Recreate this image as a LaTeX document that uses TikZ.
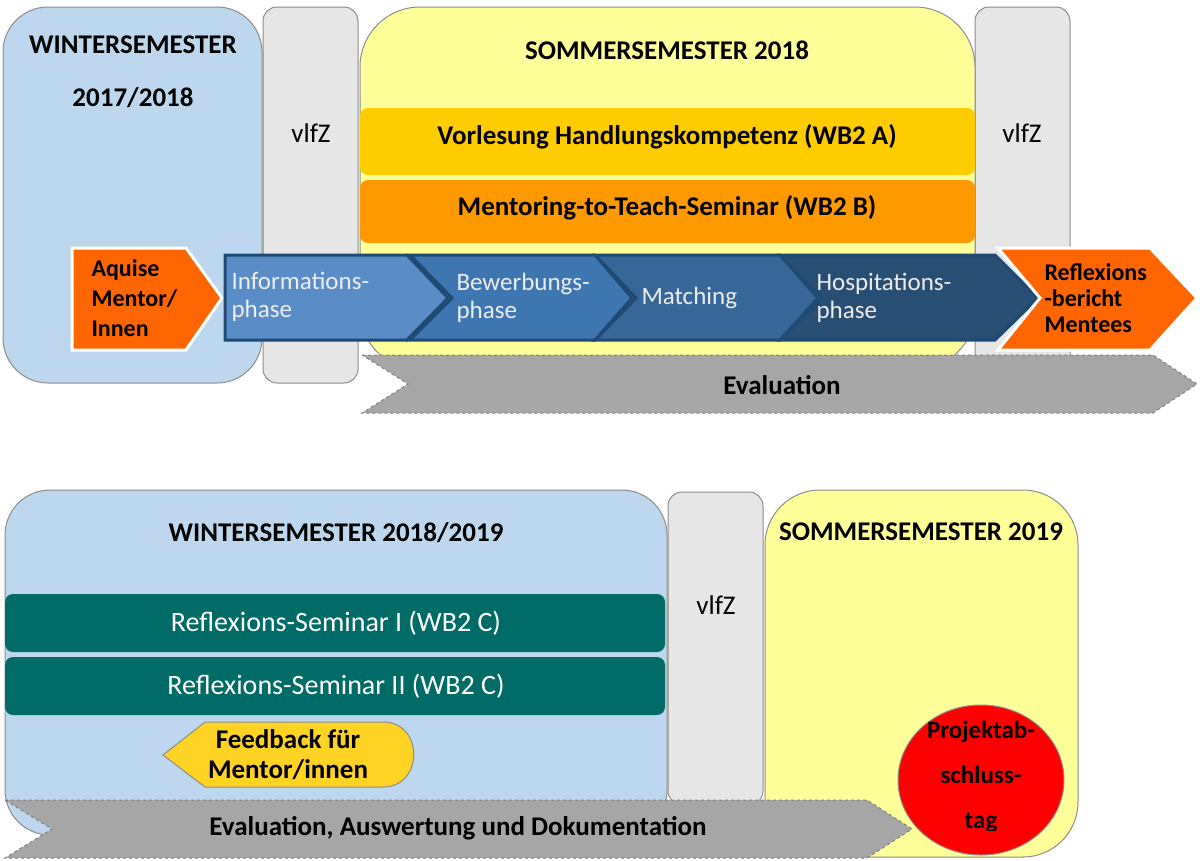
\documentclass[tikz,border=0pt]{standalone}
\usepackage{fontspec}
\setmainfont{Carlito}
\definecolor{winterblue}{HTML}{BDD7EE}
\definecolor{summeryellow}{HTML}{FFFF99}
\definecolor{vlfzgray}{HTML}{E7E6E6}
\definecolor{boxline}{HTML}{8C8C8C}
\definecolor{lecturegold}{HTML}{FFCC00}
\definecolor{seminarorange}{HTML}{FF9900}
\definecolor{deeporange}{HTML}{FF6600}
\definecolor{seminarteal}{HTML}{006B67}
\definecolor{phaseA}{HTML}{5A8CC8}
\definecolor{phaseB}{HTML}{3E76B2}
\definecolor{phaseC}{HTML}{376698}
\definecolor{phaseD}{HTML}{294E73}
\definecolor{phaseline}{HTML}{1F4A74}
\definecolor{evalgray}{HTML}{A6A6A6}
\definecolor{feedbackyellow}{HTML}{FFD324}
\tikzset{
  semester/.style={fill=#1, draw=boxline, line width=1pt, rounded corners=45pt},
  vlfzbox/.style={fill=vlfzgray, draw=boxline, line width=1pt, rounded corners=14pt},
  bar/.style={fill=#1, draw=none, rounded corners=8pt},
  phase/.style={fill=#1, draw=phaseline, line width=3pt, line join=miter},
  marker/.style={fill=deeporange, draw=white, line width=3pt, line join=miter},
  evalarrow/.style={fill=evalgray, draw=gray, line width=1pt, dashed},
  headline/.style={font=\fontsize{27}{30}\selectfont\bfseries},
  boldtext/.style={font=\fontsize{27}{30}\selectfont\bfseries, align=#1},
  boldtext/.default=center,
  markertext/.style={font=\fontsize{24}{#1}\selectfont\bfseries, align=left, anchor=west},
  plaintext/.style={font=\fontsize{27}{30}\selectfont},
  seminartext/.style={font=\fontsize{28}{30}\selectfont, text=white},
  phasetext/.style={font=\fontsize{25}{28}\selectfont, text=white!93!black, anchor=west, align=left}
}
\begin{document}
\begin{tikzpicture}[x=1pt, y=-1pt]
\useasboundingbox (0,0) rectangle (1200,860);

% Studienjahr 2017/2018
\draw [semester=winterblue] (3,7) rectangle (262,383);
\draw [vlfzbox] (263,7) rectangle (358,383);
\draw [vlfzbox] (975,7) rectangle (1070,383);
\draw [semester=summeryellow, rounded corners=60pt] (360,7) rectangle (975,370);
\fill [bar=lecturegold] (360,108) rectangle (975,175);
\fill [bar=seminarorange] (360,180) rectangle (975,243);

\node [headline] (ws1a) at (133,45) {WINTERSEMESTER};
\node [headline] (ws1b) at (133,98) {2017/2018};
\node [headline] (ss1) at (667,50) {SOMMERSEMESTER 2018};
\node [plaintext] (vlfz1) at (311,133) {vlfZ};
\node [plaintext] (vlfz2) at (1022,133) {vlfZ};
\node [boldtext] (wb2a) at (667,137) {Vorlesung Handlungskompetenz (WB2 A)};
\node [boldtext] (wb2b) at (667,208) {Mentoring-to-Teach-Seminar (WB2 B)};

\draw [marker] (72,248) -- (186,248) -- (222,298) -- (186,350) -- (72,350) -- cycle;
\node [markertext=30] (aquise) at (88,298) {Aquise\\Mentor/\\Innen};

\draw [phase=phaseA] (225,255) -- (407,255) -- (448,298) -- (407,340) -- (225,340) -- cycle;
\draw [phase=phaseB] (410,255) -- (595,255) -- (632,298) -- (595,340) -- (410,340) -- (452,298) -- cycle;
\draw [phase=phaseC] (595,255) -- (780,255) -- (818,298) -- (780,340) -- (595,340) -- (636,298) -- cycle;
\draw [phase=phaseD] (780,255) -- (995,255) -- (1038,298) -- (995,340) -- (780,340) -- (822,298) -- cycle;
\node [phasetext] (info) at (228,297) {Informations-\\phase};
\node [phasetext] (bewerb) at (453,298) {Bewerbungs-\\phase};
\node [phasetext] (match) at (638,298) {Matching};
\node [phasetext] (hosp) at (813,298) {Hospitations-\\phase};

\draw [marker] (998,248) -- (1150,248) -- (1197,298) -- (1150,350) -- (998,350) -- (1040,298) -- cycle;
\node [markertext=26] (bericht) at (1041,298) {Reflexions\\-bericht\\Mentees};

\draw [evalarrow] (362,355) -- (1153,355) -- (1197,384) -- (1153,413) -- (362,413) -- (408,384) -- cycle;
\node [boldtext] (eval1) at (782,385) {Evaluation};

% Studienjahr 2018/2019
\draw [semester=winterblue] (5,490) rectangle (667,835);
\draw [vlfzbox] (668,492) rectangle (763,805);
\draw [semester=summeryellow, rounded corners=55pt] (765,490) rectangle (1078,857);
\fill [bar=seminarteal] (5,594) rectangle (665,652);
\fill [bar=seminarteal] (5,657) rectangle (665,715);

\node [headline] (ws2) at (336,533) {WINTERSEMESTER 2018/2019};
\node [headline] (ss2) at (921,532) {SOMMERSEMESTER 2019};
\node [plaintext] (vlfz3) at (716,605) {vlfZ};
\node [seminartext] (wb2c1) at (336,623) {Reflexions-Seminar I (WB2 C)};
\node [seminartext] (wb2c2) at (336,686) {Reflexions-Seminar II (WB2 C)};

\draw [fill=feedbackyellow, draw=boxline, line width=1pt] (163,755) -- (205,722) -- (383,722)
  .. controls (424,722) and (424,787) .. (383,787) -- (205,787) -- cycle;
\node [boldtext] (feedback) at (288,755) {Feedback für\\Mentor/innen};

\draw [evalarrow] (5,800) -- (867,800) -- (912,829) -- (867,858) -- (5,858) -- (52,829) -- cycle;
\node [boldtext] (eval2) at (458,828) {Evaluation, Auswertung und Dokumentation};

\draw [fill=red, draw=boxline, line width=1pt] (981,780) ellipse [x radius=83, y radius=75];
\begin{scope}
  \clip (890,700) rectangle (1070,830);
  \node [font=\fontsize{25}{45}\selectfont\bfseries, align=center] (abschluss) at (981,777) {Projektab-\\schluss-\\tag};
\end{scope}
\end{tikzpicture}
\end{document}
